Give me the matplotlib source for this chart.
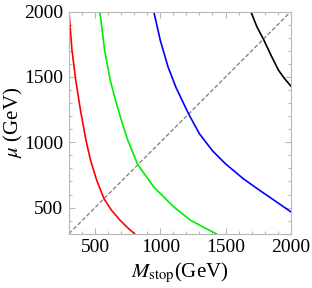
import numpy as np
import matplotlib.pyplot as plt
from matplotlib.ticker import MultipleLocator

plt.rcParams["font.family"] = ["Liberation Serif", "DejaVu Serif"]
plt.rcParams["mathtext.fontset"] = "stix"

# contours: (M_stop, mu) in GeV
red_x = [300, 323, 352, 388, 430, 465, 512, 570, 625, 690, 745, 802]
red_y = [2000, 1707, 1477, 1247, 1018, 864, 711, 565, 481, 405, 350, 300]

green_x = [537, 573, 616, 660, 708, 750, 828, 948, 1101, 1229, 1330, 1428]
green_y = [2000, 1707, 1477, 1310, 1148, 1018, 828, 660, 507, 405, 350, 300]

blue_x = [950, 1000, 1060, 1120, 1217, 1300, 1400, 1500, 1637, 1760, 1867, 2000]
blue_y = [2000, 1780, 1575, 1420, 1217, 1065, 935, 835, 720, 633, 560, 468]

black_x = [1694, 1740, 1790, 1854, 1905, 1950, 2000]
black_y = [2000, 1885, 1790, 1655, 1553, 1490, 1431]

diag = [300, 2000]

fig = plt.figure(figsize=(3.12, 2.88), dpi=100)
ax = fig.add_axes([0.221, 0.1885, 0.711, 0.771])

ax.plot(diag, diag, color="#888888", lw=1.0, ls=(0, (3, 1.5)))
ax.plot(red_x, red_y, color="#ff0000", lw=1.2)
ax.plot(green_x, green_y, color="#00ee00", lw=1.2)
ax.plot(blue_x, blue_y, color="#0000ff", lw=1.2)
ax.plot(black_x, black_y, color="black", lw=1.2)

ax.set_xlim(300, 2000)
ax.set_ylim(300, 2000)
ax.xaxis.set_major_locator(MultipleLocator(500))
ax.yaxis.set_major_locator(MultipleLocator(500))
ax.xaxis.set_minor_locator(MultipleLocator(100))
ax.yaxis.set_minor_locator(MultipleLocator(100))

frame = "#b8b8b8"
for s in ax.spines.values():
    s.set_color(frame)
    s.set_linewidth(0.8)
ax.tick_params(which="both", direction="in", top=True, right=True,
               color=frame, labelsize=14, labelcolor="black", width=0.8)
ax.tick_params(which="major", length=4, pad=4)
ax.tick_params(which="minor", length=2)

ax.set_xlabel(r"$M_{\mathrm{stop}}$(GeV)", fontsize=15, labelpad=3)
ax.set_ylabel(r"$\mu$ (GeV)", fontsize=15)
ax.yaxis.set_label_coords(-0.2, 0.5)

fig.savefig("out.png", dpi=100)
